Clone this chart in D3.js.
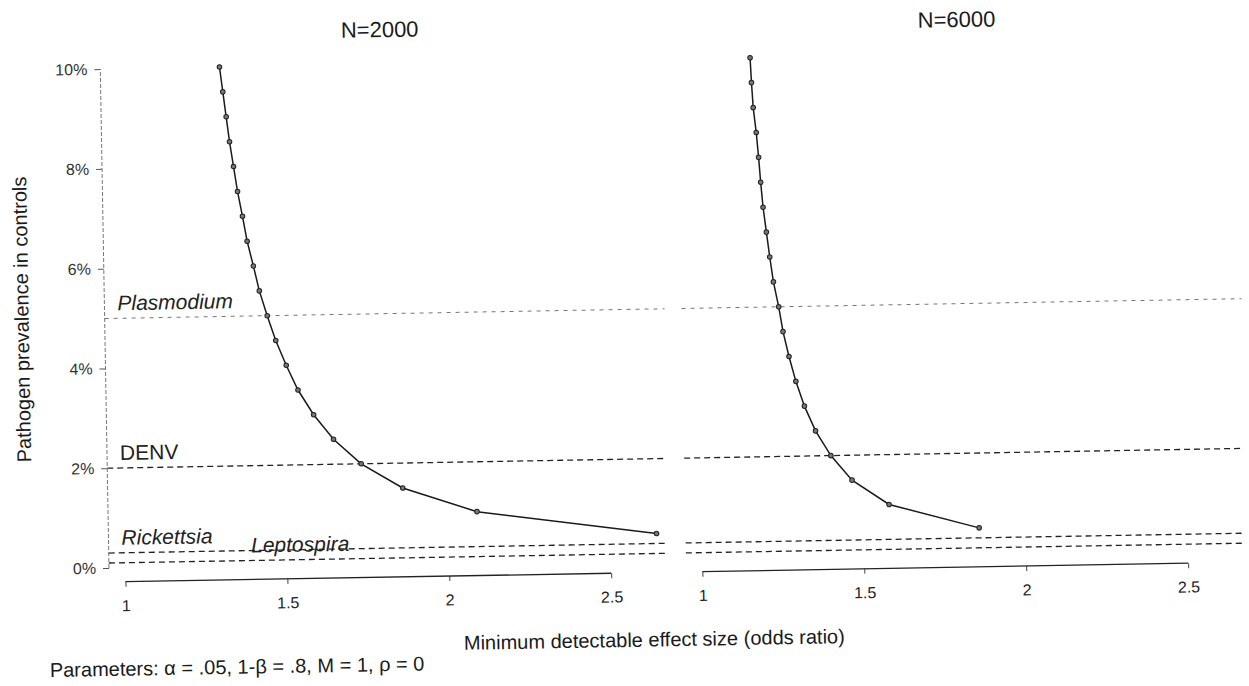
<!DOCTYPE html>
<html>
<head>
<meta charset="utf-8">
<script src="https://cdn.jsdelivr.net/npm/d3@7"></script>
<style>
  html, body { margin: 0; padding: 0; background: #fff; }
  svg { display: block; font-family: "Liberation Sans", Arial, sans-serif; }
</style>
</head>
<body>
<svg id="chart" width="1249" height="686"></svg>
<script>
// ---- data ----
const prevalence = [10, 9.5, 9, 8.5, 8, 7.5, 7, 6.5, 6, 5.5, 5, 4.5, 4, 3.5, 3, 2.5, 2, 1.5, 1, 0.5];
const or2000 = [1.318, 1.327, 1.336, 1.345, 1.356, 1.367, 1.381, 1.394, 1.412, 1.429,
                1.452, 1.477, 1.508, 1.543, 1.590, 1.650, 1.734, 1.861, 2.089, 2.642];
const or6000 = [1.175, 1.178, 1.182, 1.190, 1.196, 1.201, 1.207, 1.216, 1.225, 1.235,
                1.250, 1.262, 1.279, 1.299, 1.324, 1.357, 1.403, 1.467, 1.580, 1.857];
const panelTitles = ["N=2000", "N=6000"];
const pathogens = ["Plasmodium", "DENV", "Rickettsia", "Leptospira"];
const pathogenPrev = [5, 2, 0.3, 0.1];
const pathogenItalic = [true, false, true, true];
const pathogenLabelX = [0.99, 0.99, 0.99, 1.39];
const xTicks = [1, 1.5, 2, 2.5];
const yTicks = [0, 2, 4, 6, 8, 10];
const yTickLabels = ["0%", "2%", "4%", "6%", "8%", "10%"];
const xTitle = "Minimum detectable effect size (odds ratio)";
const yTitle = "Pathogen prevalence in controls";
const footnote = "Parameters: \u03b1 = .05, 1-\u03b2 = .8, M = 1, \u03c1 = 0";

// ---- layout ----
const svg = d3.select("#chart");
svg.append("rect").attr("width", 1249).attr("height", 686).attr("fill", "#fff");
const root = svg.append("g").attr("transform", "rotate(-1,109,568)");

const panelW = 560;
const panelLeft = [109, 686];
const x = d3.scaleLinear().domain([0.95, 2.679]).range([0, panelW]);
const y = d3.scaleLinear().domain([0, 10]).range([568, 69]);
const series = [or2000, or6000];

series.forEach((ors, pi) => {
  const pg = root.append("g").attr("transform", `translate(${panelLeft[pi]},0)`);

  // reference lines
  pathogenPrev.forEach((v, i) => {
    pg.append("line")
      .attr("x1", 0).attr("x2", panelW)
      .attr("y1", y(v)).attr("y2", y(v))
      .attr("stroke", i === 0 ? "#777" : "#222")
      .attr("stroke-width", i === 0 ? 1 : 1.3)
      .attr("stroke-dasharray", i === 0 ? "4,5" : "6,4");
  });

  // labels only in left panel
  if (pi === 0) {
    pathogens.forEach((name, i) => {
      pg.append("text")
        .attr("x", x(pathogenLabelX[i]))
        .attr("y", y(pathogenPrev[i]) - 8)
        .attr("font-size", 21)
        .attr("font-style", pathogenItalic[i] ? "italic" : "normal")
        .attr("fill", "#222")
        .text(name);
    });
  }

  // curve
  const pts = prevalence.map((p, i) => ({ p, or: ors[i] }));
  pg.append("path")
    .datum(pts)
    .attr("fill", "none")
    .attr("stroke", "#1a1a1a")
    .attr("stroke-width", 1.5)
    .attr("d", d3.line().x(d => x(d.or)).y(d => y(d.p)));
  pg.selectAll("circle.pt").data(pts).enter().append("circle")
    .attr("class", "pt")
    .attr("cx", d => x(d.or)).attr("cy", d => y(d.p))
    .attr("r", 2.3)
    .attr("fill", "#777").attr("stroke", "#222").attr("stroke-width", 1);

  // x axis
  const xa = pg.append("g").attr("transform", "translate(0,582)")
    .call(d3.axisBottom(x).tickValues(xTicks).tickSize(5).tickPadding(13)
      .tickFormat(d3.format("")));
  xa.select(".domain").remove();
  xa.append("line").attr("x1", x(xTicks[0])).attr("x2", x(xTicks[xTicks.length - 1]))
    .attr("stroke", "#222").attr("stroke-width", 1.3);
  xa.selectAll(".tick line").attr("stroke", "#444");
  xa.selectAll("text").attr("font-size", 16).attr("fill", "#222")
    .attr("font-family", "'Liberation Sans', Arial, sans-serif");

  // y axis (left panel only)
  if (pi === 0) {
    const ya = pg.append("g")
      .call(d3.axisLeft(y).tickValues(yTicks).tickSize(6).tickPadding(7)
        .tickFormat((d, i) => yTickLabels[i]));
    ya.select(".domain").remove();
    ya.append("line").attr("y1", y(yTicks[0])).attr("y2", y(yTicks[yTicks.length - 1]))
      .attr("stroke", "#777").attr("stroke-width", 1).attr("stroke-dasharray", "4,2");
    ya.selectAll(".tick line").attr("stroke", "#555");
    ya.selectAll("text").attr("font-size", 16).attr("fill", "#333")
      .attr("font-family", "'Liberation Sans', Arial, sans-serif");
  }

  // panel title
  pg.append("text")
    .attr("x", panelW / 2).attr("y", 42)
    .attr("text-anchor", "middle")
    .attr("font-size", 22).attr("fill", "#1a1a1a")
    .text(panelTitles[pi]);
});

// axis titles
root.append("text")
  .attr("transform", "translate(33,318) rotate(-90)")
  .attr("text-anchor", "middle")
  .attr("font-size", 20).attr("fill", "#1a1a1a")
  .text(yTitle);
root.append("text")
  .attr("x", 653).attr("y", 656)
  .attr("text-anchor", "middle")
  .attr("font-size", 20).attr("fill", "#1a1a1a")
  .text(xTitle);
root.append("text")
  .attr("x", 48).attr("y", 676)
  .attr("font-size", 20).attr("fill", "#1a1a1a")
  .text(footnote);
</script>
</body>
</html>
